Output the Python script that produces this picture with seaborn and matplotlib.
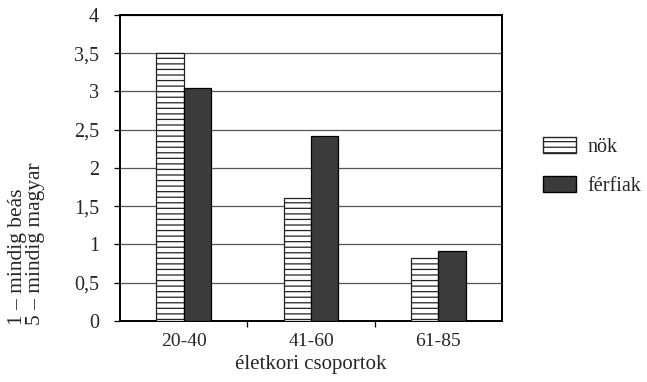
import matplotlib
matplotlib.use("Agg")
import matplotlib.pyplot as plt
from matplotlib.patches import Patch
import seaborn as sns
import pandas as pd

# Data
groups = ["20-40", "41-60", "61-85"]
series_names = ["nök", "férfiak"]
nok = [3.5, 1.6, 0.82]
ferfiak = [3.05, 2.42, 0.92]
y_ticks = [0, 0.5, 1, 1.5, 2, 2.5, 3, 3.5, 4]
y_tick_labels = ["0", "0,5", "1", "1,5", "2", "2,5", "3", "3,5", "4"]

df = pd.DataFrame({
    "csoport": groups * 2,
    "nem": [series_names[0]] * 3 + [series_names[1]] * 3,
    "ertek": nok + ferfiak,
})

sns.set_theme(style="white")
plt.rcParams["font.family"] = ["Liberation Serif", "DejaVu Serif"]
plt.rcParams["hatch.linewidth"] = 0.9

fig = plt.figure(figsize=(6.47, 3.82), dpi=100)
ax = fig.add_axes([0.1855, 0.16, 0.5905, 0.801])

palette = {series_names[0]: "white", series_names[1]: "#3b3b3b"}
sns.barplot(data=df, x="csoport", y="ertek", hue="nem", order=groups,
            hue_order=series_names, palette=palette, width=0.43,
            edgecolor="black", linewidth=0.9, saturation=1, legend=False,
            ax=ax, zorder=3)

# horizontal line pattern for the first series
for bar in ax.patches[:len(groups)]:
    bar.set_hatch("---")
    bar.set_facecolor("white")
    bar.set_edgecolor("#222222")

ax.set_ylim(0, 4)
ax.set_xlim(-0.5, 2.5)
ax.set_yticks(y_ticks)
ax.set_yticklabels(y_tick_labels, fontsize=14.5)
ax.yaxis.grid(True, color="#555555", linewidth=0.9, zorder=0)
ax.set_axisbelow(True)

ax.set_xticks(range(len(groups)))
ax.set_xticklabels(groups, fontsize=14)
ax.set_xticks([0.5, 1.5], minor=True)
ax.tick_params(axis="x", which="major", length=0, pad=9)
ax.tick_params(axis="x", which="minor", length=4, width=0.9, color="black",
               direction="out", bottom=True)
ax.tick_params(axis="y", length=4, width=0.9, color="black",
               direction="out", left=True, pad=11)

for side in ["left", "right", "top", "bottom"]:
    ax.spines[side].set_visible(True)
    ax.spines[side].set_color("black")
    ax.spines[side].set_linewidth(1.4)

ax.set_xlabel("életkori csoportok", fontsize=15, labelpad=3)
ax.set_ylabel("")

# two-line axis title, both lines starting at the bottom
fig.text(0.041, 0.149, "1 – mindig beás\n5 – mindig magyar", rotation=90,
         ha="center", va="bottom", multialignment="left", fontsize=15.5,
         linespacing=0.9)

handles = [
    Patch(facecolor="white", edgecolor="#222222", hatch="---",
          label=series_names[0]),
    Patch(facecolor="#3b3b3b", edgecolor="black", label=series_names[1]),
]
fig.legend(handles=handles, loc="center left", bbox_to_anchor=(0.812, 0.565),
           frameon=False, fontsize=14.5, handlelength=1.6, handleheight=0.85,
           labelspacing=0.95, handletextpad=0.6)

fig.savefig("out.png", dpi=100, facecolor="white")
